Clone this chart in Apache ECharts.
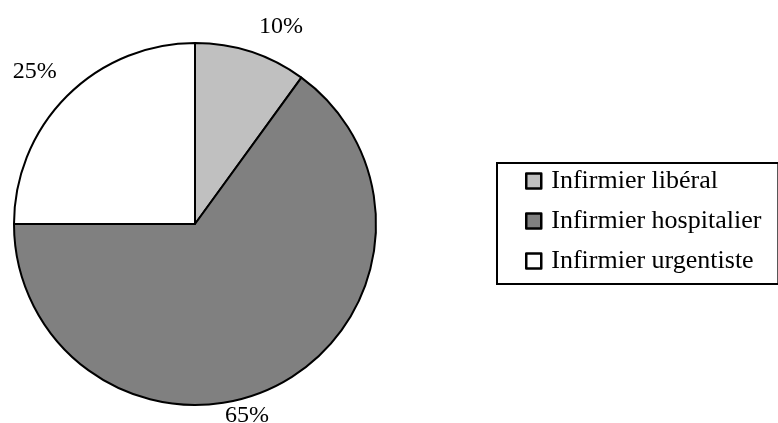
<!DOCTYPE html>
<html><head><meta charset="utf-8">
<script src="https://cdn.jsdelivr.net/npm/echarts@6/dist/echarts.min.js"></script>
<style>html,body{margin:0;padding:0;background:#fff}#c{width:778px;height:423px}</style>
</head><body><div id="c"></div>
<script>
const categories = ['Infirmier libéral', 'Infirmier hospitalier', 'Infirmier urgentiste'];
const values = [10, 65, 25];
const colors = ['#c0c0c0', '#808080', '#ffffff'];
// small label nudges (style only)
const labelShift = [[-5, 0], [-69, 7], [13, -6]];

const chart = echarts.init(document.getElementById('c'), null, {renderer: 'canvas'});
const font = '"Liberation Serif", "Times New Roman", serif';
chart.setOption({
  animation: false,
  backgroundColor: '#ffffff',
  textStyle: {fontFamily: font},
  legend: {
    orient: 'vertical',
    left: 497, top: 163,
    padding: [4, 17, 9, 28],
    itemGap: 12,
    itemWidth: 15, itemHeight: 15,
    borderColor: '#000', borderWidth: 2,
    icon: 'rect',
    itemStyle: {borderColor: '#000', borderWidth: 2.5},
    textStyle: {fontFamily: font, fontSize: 26, lineHeight: 26, color: '#000', padding: [2,0,0,5]},
    data: categories
  },
  series: [{
    type: 'pie',
    center: [195, 224],
    radius: 181,
    startAngle: 90,
    clockwise: true,
    avoidLabelOverlap: false,
    itemStyle: {borderColor: '#000', borderWidth: 2},
    label: {
      show: true, position: 'outside',
      formatter: '{d}%',
      fontFamily: font, fontSize: 24, color: '#000'
    },
    labelLine: {show: false, length: 26, length2: 0},
    labelLayout: function (p) {
      const s = labelShift[p.dataIndex];
      return {dx: s[0], dy: s[1]};
    },
    emphasis: {disabled: true},
    data: categories.map((n, i) => ({name: n, value: values[i], itemStyle: {color: colors[i]}}))
  }]
});
</script></body></html>
